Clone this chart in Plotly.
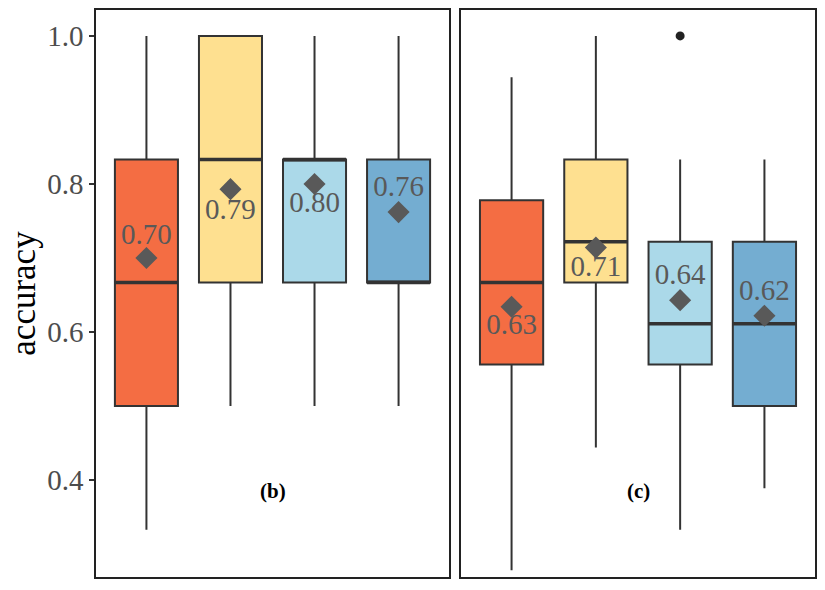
import plotly.graph_objects as go

categories = [1, 2, 3, 4]
colors = ["#F46D43", "#FEE090", "#ABD9E9", "#74ADD1"]

# panel (b)
b_low = [0.333, 0.5, 0.5, 0.5]
b_q1 = [0.5, 0.667, 0.667, 0.667]
b_med = [0.667, 0.833, 0.833, 0.667]
b_q3 = [0.833, 1.0, 0.833, 0.833]
b_high = [1.0, 1.0, 1.0, 1.0]
b_mean = [0.70, 0.793, 0.80, 0.762]
b_label_y = [0.728, 0.763, 0.772, 0.793]

# panel (c)
c_low = [0.278, 0.444, 0.333, 0.389]
c_q1 = [0.556, 0.667, 0.556, 0.5]
c_med = [0.667, 0.722, 0.611, 0.611]
c_q3 = [0.778, 0.833, 0.722, 0.722]
c_high = [0.944, 1.0, 0.833, 0.833]
c_mean = [0.634, 0.714, 0.643, 0.622]
c_label_y = [0.607, 0.685, 0.674, 0.653]
c_out_x = [3]
c_out_y = [1.0]

box_w = 0.75
serif = "Liberation Serif"

fig = go.Figure()

def add_panel(xa, ya, low, q1, med, q3, high, mean, label_y):
    for i, x in enumerate(categories):
        fig.add_trace(go.Box(
            x=[x], q1=[q1[i]], median=[med[i]], q3=[q3[i]],
            lowerfence=[low[i]], upperfence=[high[i]],
            fillcolor=colors[i], line=dict(color="#333333", width=2),
            width=box_w, whiskerwidth=0, boxpoints=False,
            xaxis=xa, yaxis=ya, showlegend=False, hoverinfo="skip"))
        fig.add_trace(go.Scatter(
            x=[x - box_w / 2, x + box_w / 2], y=[med[i], med[i]],
            mode="lines", line=dict(color="#333333", width=3.5),
            xaxis=xa, yaxis=ya, showlegend=False, hoverinfo="skip"))
    fig.add_trace(go.Scatter(
        x=categories, y=mean, mode="markers",
        marker=dict(symbol="diamond", size=17, color="#595959"),
        xaxis=xa, yaxis=ya, showlegend=False, hoverinfo="skip"))
    fig.add_trace(go.Scatter(
        x=categories, y=label_y, mode="text",
        text=[f"{m:.2f}" for m in mean], textposition="middle center",
        textfont=dict(family=serif, size=29, color="#595959"),
        xaxis=xa, yaxis=ya, showlegend=False, hoverinfo="skip"))

add_panel("x", "y", b_low, b_q1, b_med, b_q3, b_high, b_mean, b_label_y)
add_panel("x2", "y2", c_low, c_q1, c_med, c_q3, c_high, c_mean, c_label_y)
fig.add_trace(go.Scatter(
    x=c_out_x, y=c_out_y, mode="markers",
    marker=dict(size=9, color="#222222"),
    xaxis="x2", yaxis="y2", showlegend=False, hoverinfo="skip"))

yr = [0.269, 1.035]
xr = [0.4, 4.6]
ydom = [1 - 577 / 590, 1 - 10 / 590]
axis_common = dict(showline=True, mirror=True, linecolor="#222222", linewidth=1.5,
                   showgrid=False, zeroline=False)
fig.update_layout(
    width=825, height=590,
    margin=dict(l=0, r=0, t=0, b=0),
    paper_bgcolor="white", plot_bgcolor="white",
    xaxis=dict(domain=[96 / 825, 449 / 825], range=xr, showticklabels=False,
               ticks="", **axis_common),
    xaxis2=dict(domain=[461 / 825, 815 / 825], range=xr, showticklabels=False,
                ticks="", anchor="y2", **axis_common),
    yaxis=dict(domain=ydom, range=yr, tickvals=[0.4, 0.6, 0.8, 1.0],
               ticktext=["0.4", "0.6", "0.8", "1.0"], ticks="outside",
               ticklen=5, tickwidth=1.5, tickcolor="#333333",
               tickfont=dict(family=serif, size=29, color="#4D4D4D"),
               title=dict(text="accuracy", font=dict(family=serif, size=35, color="black"),
                          standoff=1),
               **axis_common),
    yaxis2=dict(domain=ydom, range=yr, anchor="x2", showticklabels=False,
                ticks="", **axis_common),
    annotations=[
        dict(text="<b>(b)</b>", x=2.5, y=0.385, xref="x", yref="y", showarrow=False,
             font=dict(family=serif, size=21, color="black")),
        dict(text="<b>(c)</b>", x=2.5, y=0.385, xref="x2", yref="y2", showarrow=False,
             font=dict(family=serif, size=21, color="black")),
    ],
)

fig.write_html("out.html")
